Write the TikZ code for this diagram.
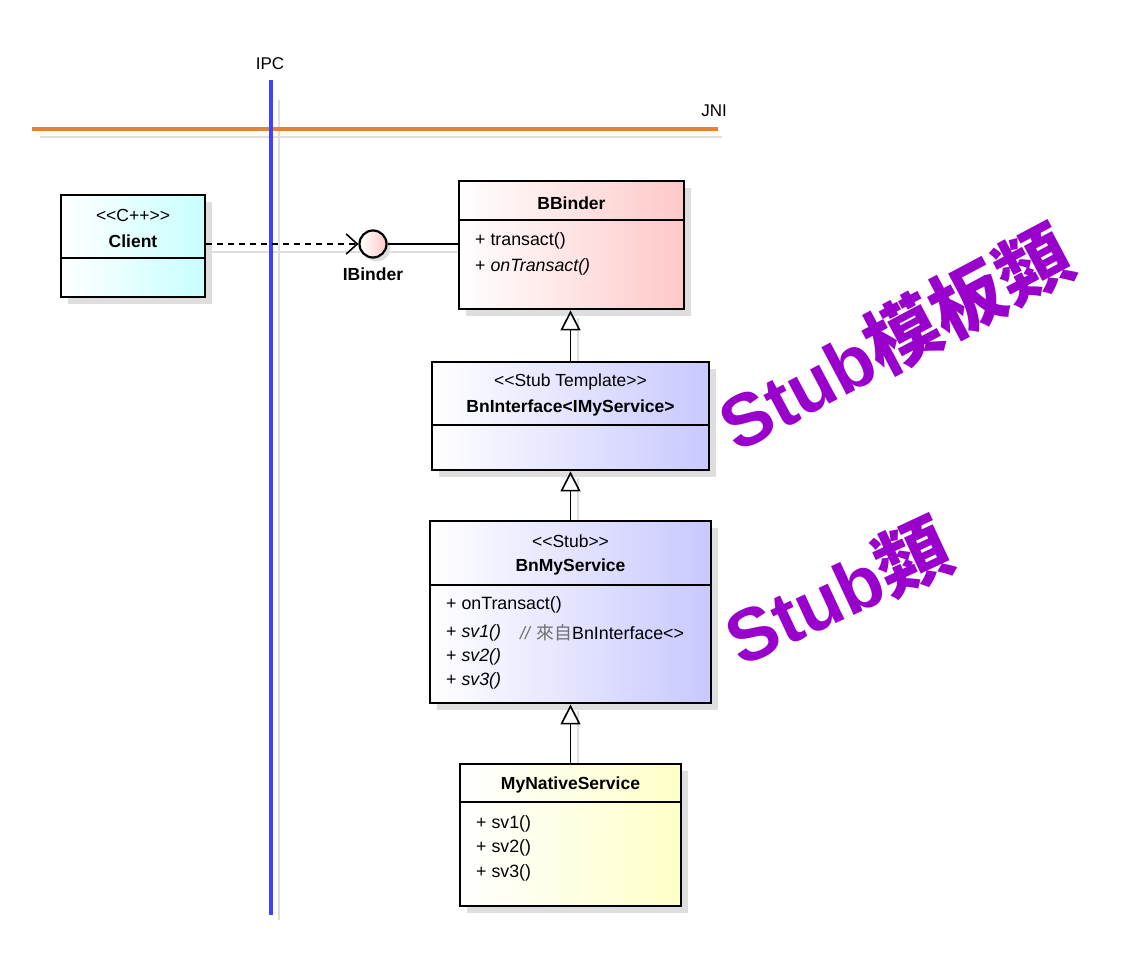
\documentclass[tikz,border=0pt]{standalone}
\usepackage{fontspec}
\setmainfont{Liberation Sans}
\newfontfamily\cjk{Noto Sans CJK TC}
\usetikzlibrary{arrows.meta,shadows}
\definecolor{ipcblue}{RGB}{64,64,255}
\definecolor{jniorange}{RGB}{230,128,50}
\definecolor{stubpurple}{RGB}{153,0,204}
\definecolor{cyanfill}{RGB}{200,255,255}
\definecolor{pinkfill}{RGB}{255,200,200}
\definecolor{bluefill}{RGB}{200,200,255}
\definecolor{yellowfill}{RGB}{255,255,200}
\definecolor{shadowgray}{RGB}{222,222,222}
\definecolor{commentgray}{RGB}{110,110,110}
\newcommand{\ltlt}{{<}{<}}
\newcommand{\gtgt}{{>}{>}}
\begin{document}
\begin{tikzpicture}[x=1pt,y=-1pt,
  umlbox/.style={draw=black, line width=2.8pt, rectangle, inner sep=0pt,
    drop shadow={shadow xshift=7pt,shadow yshift=-7pt,fill=shadowgray,opacity=1}},
  stereo/.style={font=\fontsize{17.5}{20}\selectfont, inner sep=0pt},
  cname/.style={font=\bfseries\fontsize{17.5}{20}\selectfont, inner sep=0pt},
  member/.style={font=\fontsize{17.8}{20}\selectfont, anchor=west, inner sep=0pt},
  divider/.style={line width=1.5pt},
  inherit/.style={line width=1.6pt, -{Triangle[open,length=20pt,width=20pt]}},
  shadowline/.style={draw=shadowgray, line width=2pt},
  stubtext/.style={text=stubpurple, font=\bfseries\fontsize{74}{80}\selectfont, inner sep=0pt},
  label/.style={font=\fontsize{17}{20}\selectfont, inner sep=0pt}
]
\useasboundingbox[fill=white] (0,0) rectangle (1128,960);

% shadow lines
\draw[shadowline] (279,100) -- (279,920);
\draw[shadowline] (40,137) -- (722,137);
\draw[shadowline] (205,252) -- (460,252);
\draw[shadowline] (578,318) -- (578,362);
\draw[shadowline] (578,478) -- (578,521);
\draw[shadowline] (578,711) -- (578,764);

% JNI and IPC lines
\coordinate (jniL) at (32,129);
\coordinate (jniR) at (718,129);
\draw[jniorange, line width=3.5pt] (jniL) -- (jniR);
\node[label, anchor=south east] (jni) at (727,117) {JNI};

\coordinate (ipcT) at (271,80);
\coordinate (ipcB) at (271,915);
\draw[ipcblue, line width=4pt] (ipcT) -- (ipcB);
\node[label] (ipc) at (270,64) {IPC};

% Client
\node[umlbox, left color=white, right color=cyanfill, minimum width=144pt, minimum height=102pt] (client) at (133,246) {};
\node[stereo] (clientst) at (133,215) {\ltlt C++\gtgt};
\node[cname] (clientnm) at (133,241) {Client};
\draw[divider] (client.west |- 0,258) -- (client.east |- 0,258);

% BBinder
\node[umlbox, left color=white, right color=pinkfill, minimum width=225pt, minimum height=128pt] (bbinder) at (571.5,245) {};
\node[cname] (bbindernm) at (571.5,203) {BBinder};
\draw[divider] (bbinder.west |- 0,220) -- (bbinder.east |- 0,220);
\node[member] (bb1) at (475,241) {+ transact()};
\node[member] (bb2) at (475,267) {+ \textit{onTransact()}};

% IBinder lollipop
\node[circle, draw=black, line width=2.2pt, left color=white, right color=pinkfill, minimum size=27pt, inner sep=0pt,
  drop shadow={shadow xshift=4pt,shadow yshift=-4pt,fill=shadowgray,opacity=1}] (ibinder) at (373,244) {};
\node[cname] (ibindernm) at (373,274) {IBinder};
\draw[line width=1.6pt] (ibinder.east) -- (ibinder.east -| bbinder.west);
\draw[line width=1.4pt, dash pattern=on 6pt off 5pt, -{Straight Barb[length=11pt,width=20pt,line width=1.6pt]}] (client.east |- ibinder.west) -- (ibinder.west);

% BnInterface
\node[umlbox, left color=white, right color=bluefill, minimum width=277pt, minimum height=108pt] (bninterface) at (570.5,416) {};
\node[stereo] (bnist) at (570.5,382) {\ltlt Stub Template\gtgt};
\node[cname] (bninm) at (570.5,408) {BnInterface{<}IMyService{>}};
\draw[divider] (bninterface.west |- 0,425) -- (bninterface.east |- 0,425);

% BnMyService
\node[umlbox, left color=white, right color=bluefill, minimum width=281pt, minimum height=182pt] (bnmy) at (570.5,612) {};
\node[stereo] (bnmyst) at (570.5,541) {\ltlt Stub\gtgt};
\node[cname] (bnmynm) at (570.5,567) {BnMyService};
\draw[divider] (bnmy.west |- 0,585) -- (bnmy.east |- 0,585);
\node[member] (bm1) at (446,605) {+ onTransact()};
\node[member] (bm2) at (446,633) {+ \textit{sv1()}};
\node[member, anchor=west] (bmc) at (520,633) {{\color{commentgray}\textit{//} {\cjk 來自}}BnInterface{<}{>}};
\node[member] (bm3) at (446,657) {+ \textit{sv2()}};
\node[member] (bm4) at (446,681) {+ \textit{sv3()}};

% MyNativeService
\node[umlbox, left color=white, right color=yellowfill, minimum width=221pt, minimum height=142pt] (mynative) at (570.5,835) {};
\node[cname] (mynm) at (570.5,785) {MyNativeService};
\draw[divider] (mynative.west |- 0,802) -- (mynative.east |- 0,802);
\node[member] (mn1) at (476,824) {+ sv1()};
\node[member] (mn2) at (476,848) {+ sv2()};
\node[member] (mn3) at (476,873) {+ sv3()};

% inheritance
\draw[inherit] (bninterface.north) -- (bninterface.north |- bbinder.south);
\draw[inherit] (bnmy.north) -- (bnmy.north |- bninterface.south);
\draw[inherit] (mynative.north) -- (mynative.north |- bnmy.south);

% Stub labels
\node[stubtext, rotate=28] (stubtpl) at (895,338) {Stub{\cjk\bfseries 模板類}};
\node[stubtext, rotate=25] (stubcls) at (838,592) {Stub{\cjk\bfseries 類}};
\end{tikzpicture}
\end{document}
